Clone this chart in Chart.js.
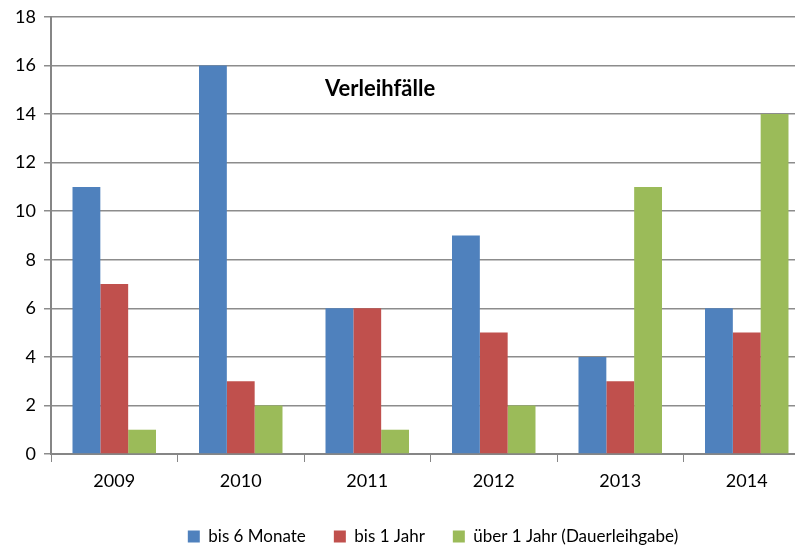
<!DOCTYPE html>
<html>
<head>
<meta charset="utf-8">
<script src="https://cdn.jsdelivr.net/npm/chart.js@4"></script>
<style>
  html, body { margin: 0; padding: 0; background: #fff; overflow: hidden; }
  #wrap { position: relative; width: 795px; height: 546px; overflow: hidden; }
  #chart { position: absolute; left: 0; top: 0; }
  #title { position: absolute; left: 325px; top: 74px; font: bold 22px Lato, "Open Sans", sans-serif; color: #000; }
</style>
</head>
<body>
<div id="wrap">
  <canvas id="chart" width="812" height="546"></canvas>
  <div id="title">Verleihfälle</div>
</div>
<script>
const years = ["2009", "2010", "2011", "2012", "2013", "2014"];
const seriesNames = ["bis 6 Monate", "bis 1 Jahr", "über 1 Jahr (Dauerleihgabe)"];
const shortLoans = [11, 16, 6, 9, 4, 6];
const yearLoans = [7, 3, 6, 5, 3, 5];
const permanentLoans = [1, 2, 1, 2, 11, 14];
const colors = ["#4F81BD", "#C0504D", "#9BBB59"];

const fontFamily = "Lato, 'Open Sans', sans-serif";
const ctx = document.getElementById("chart").getContext("2d");

// the original legend sits a bit right of the canvas centre
const shiftLegend = {
  id: "shiftLegend",
  afterLayout(chart) {
    const lg = chart.legend;
    lg.left += 28;
    lg.right += 28;
  }
};

new Chart(ctx, {
  type: "bar",
  data: {
    labels: years,
    datasets: [shortLoans, yearLoans, permanentLoans].map((d, i) => ({
      label: seriesNames[i],
      data: d,
      backgroundColor: colors[i],
      borderWidth: 0,
      categoryPercentage: 0.66,
      barPercentage: 1
    }))
  },
  plugins: [shiftLegend],
  options: {
    responsive: false,
    animation: false,
    devicePixelRatio: 1,
    layout: { padding: { top: -2, right: 2, left: 0, bottom: -9 } },
    plugins: {
      title: { display: false },
      tooltip: { enabled: false },
      legend: {
        position: "bottom",
        labels: {
          boxWidth: 12,
          boxHeight: 12,
          padding: 28,
          color: "#000",
          font: { family: fontFamily, size: 17 }
        }
      }
    },
    scales: {
      x: {
        grid: { drawOnChartArea: false, drawTicks: true, tickLength: 8, color: "#868686", offset: true },
        border: { color: "#868686", width: 2 },
        ticks: { color: "#000", padding: 8, maxRotation: 0, font: { family: fontFamily, size: 18 } },
        afterFit: (s) => { s.height = 46; }
      },
      y: {
        min: 0,
        max: 18,
        ticks: { stepSize: 2, color: "#000", padding: 8, font: { family: fontFamily, size: 18, lineHeight: 1 } },
        grid: { color: "#8c8c8c", lineWidth: 1.5, tickLength: 7 },
        border: { color: "#868686", width: 2 },
        afterFit: (s) => { s.width = 51; }
      }
    }
  }
});
</script>
</body>
</html>
